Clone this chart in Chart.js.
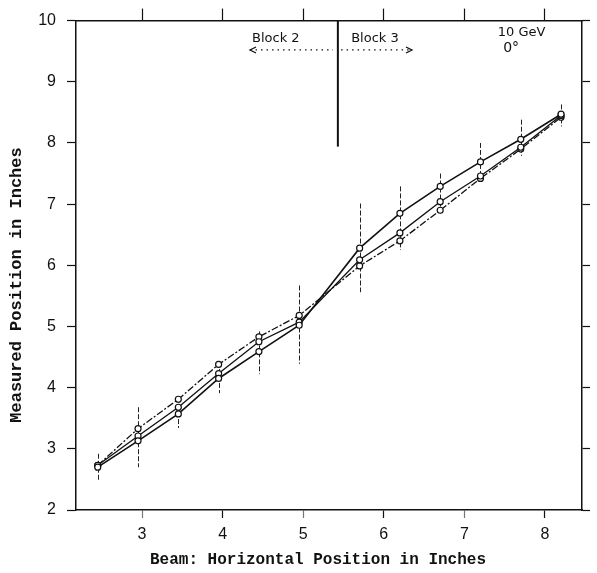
<!DOCTYPE html>
<html>
<head>
<meta charset="utf-8">
<script src="https://cdn.jsdelivr.net/npm/chart.js@4.4.0/dist/chart.umd.min.js"></script>
<style>
  html, body { margin: 0; padding: 0; background: #fff; }
  canvas { display: block; }
</style>
</head>
<body>
<canvas id="chart" width="597" height="573"></canvas>
<script>
// Beam position scan, 10 GeV at 0 degrees

const beamX = [2.45, 2.95, 3.45, 3.95, 4.45, 4.95, 5.7, 6.2, 6.7, 7.2, 7.7, 8.2];
const runA = [2.70, 3.13, 3.57, 4.15, 4.59, 5.02, 6.28, 6.85, 7.29, 7.69, 8.06, 8.47];
const runB = [2.73, 3.21, 3.68, 4.23, 4.75, 5.07, 6.09, 6.53, 7.04, 7.46, 7.93, 8.45];
const runC = [2.73, 3.33, 3.81, 4.38, 4.83, 5.18, 5.99, 6.40, 6.90, 7.42, 7.90, 8.42];
const errLow  = [2.49, 2.70, 3.34, 3.91, 4.22, 4.39, 5.56, 6.25, 6.82, 7.37, 7.79, 8.27];
const errHigh = [2.92, 3.68, 3.83, 4.42, 4.92, 5.67, 7.01, 7.29, 7.50, 8.00, 8.38, 8.63];

const xTicks = [3, 4, 5, 6, 7, 8];
const yTicks = [2, 3, 4, 5, 6, 7, 8, 9, 10];
const xRange = [2.18, 8.46];
const yRange = [2, 10];

// block boundary marker
const blockEdgeX = 5.43;
const blockEdgeY = 7.94;

const INK = '#111111';
const toPoints = ys => beamX.map((x, i) => ({ x: x, y: ys[i] }));

// ─── Error bars (drawn under the lines) ─────────────────────────────────────

const errorBars = {
  id: 'errorBars',
  beforeDatasetsDraw(chart) {
    const { ctx, scales } = chart;
    ctx.save();
    ctx.strokeStyle = '#222';
    ctx.lineWidth = 1;
    ctx.setLineDash([5, 2]);
    beamX.forEach((x, i) => {
      const px = Math.round(scales.x.getPixelForValue(x)) + 0.5;
      ctx.beginPath();
      ctx.moveTo(px, scales.y.getPixelForValue(errHigh[i]));
      ctx.lineTo(px, scales.y.getPixelForValue(errLow[i]));
      ctx.stroke();
    });
    ctx.restore();
  }
};

// ─── Labels, block marker, axis titles ──────────────────────────────────────

function dottedArrow(ctx, x0, x1, y, dir) {
  ctx.save();
  ctx.setLineDash([1.5, 4]);
  ctx.lineWidth = 1.3;
  ctx.beginPath();
  ctx.moveTo(x0, y);
  ctx.lineTo(x1, y);
  ctx.stroke();
  ctx.setLineDash([]);
  const tip = dir < 0 ? x0 : x1;
  ctx.beginPath();
  ctx.moveTo(tip - dir * 6, y - 3);
  ctx.lineTo(tip, y);
  ctx.lineTo(tip - dir * 6, y + 3);
  ctx.stroke();
  ctx.restore();
}

const notes = {
  id: 'notes',
  afterDraw(chart) {
    const { ctx, scales } = chart;
    const sx = v => scales.x.getPixelForValue(v);
    const sy = v => scales.y.getPixelForValue(v);
    ctx.save();
    ctx.strokeStyle = INK;
    ctx.fillStyle = INK;

    ctx.lineWidth = 2;
    ctx.beginPath();
    ctx.moveTo(sx(blockEdgeX), sy(10));
    ctx.lineTo(sx(blockEdgeX), sy(blockEdgeY));
    ctx.stroke();

    ctx.font = "13px 'DejaVu Sans'";
    ctx.textAlign = 'center';
    ctx.textBaseline = 'middle';
    ctx.fillText('Block 2', sx(4.66), sy(9.71));
    ctx.fillText('Block 3', sx(5.89), sy(9.71));
    dottedArrow(ctx, sx(4.34), sx(5.37), sy(9.52), -1);
    dottedArrow(ctx, sx(5.47), sx(6.35), sy(9.52), 1);
    ctx.fillText('10 GeV', sx(7.71), sy(9.81));
    ctx.font = "14px 'DejaVu Sans'";
    ctx.fillText('0°', sx(7.58), sy(9.54));

    ctx.font = "bold 16px 'Liberation Mono'";
    ctx.fillText('Beam: Horizontal Position in Inches', 318, 560);

    ctx.translate(17, 285);
    ctx.rotate(-Math.PI / 2);
    ctx.font = "bold 17px 'Liberation Mono'";
    ctx.fillText('Measured Position in Inches', 0, 0);
    ctx.restore();
  }
};

// ─── Axes ───────────────────────────────────────────────────────────────────

function fixedTicks(values) {
  return scale => { scale.ticks = values.map(v => ({ value: v })); };
}

const tickFont = { family: "'Liberation Sans'", size: 16 };

const chart = new Chart(document.getElementById('chart'), {
  type: 'line',
  data: {
    datasets: [
      {
        label: 'Run A',
        data: toPoints(runA),
        borderColor: INK,
        borderWidth: 1.6
      },
      {
        label: 'Run B',
        data: toPoints(runB),
        borderColor: INK,
        borderWidth: 1.3
      },
      {
        label: 'Run C',
        data: toPoints(runC),
        borderColor: INK,
        borderWidth: 1.3,
        borderDash: [7, 2, 2, 2]
      }
    ].map(ds => Object.assign(ds, {
      tension: 0,
      fill: false,
      pointRadius: 3,
      pointBorderWidth: 1.2,
      pointBorderColor: INK,
      pointBackgroundColor: '#ffffff'
    }))
  },
  options: {
    responsive: false,
    animation: false,
    layout: { padding: 0 },
    plugins: {
      legend: { display: false },
      tooltip: { enabled: false }
    },
    scales: {
      x: {
        type: 'linear',
        position: 'bottom',
        min: xRange[0],
        max: xRange[1],
        afterBuildTicks: fixedTicks(xTicks),
        afterFit: s => { s.height = 63; },
        border: { color: INK, width: 1.5 },
        grid: {
          drawOnChartArea: false,
          tickLength: 8,
          tickColor: c => (c.tick && c.tick.value % 2 === 0) ? INK : '#777',
          tickWidth: 1.2
        },
        ticks: { color: INK, font: tickFont, padding: 7, maxRotation: 0 }
      },
      xTop: {
        type: 'linear',
        position: 'top',
        min: xRange[0],
        max: xRange[1],
        afterBuildTicks: fixedTicks(xTicks),
        afterFit: s => { s.height = 15; },
        border: { color: INK, width: 1.5 },
        grid: { drawOnChartArea: false, tickLength: 12, tickColor: INK, tickWidth: 1.2 },
        ticks: { display: false }
      },
      y: {
        type: 'linear',
        position: 'left',
        min: yRange[0],
        max: yRange[1],
        afterBuildTicks: fixedTicks(yTicks),
        afterFit: s => { s.width = 76; },
        border: { color: INK, width: 1.5 },
        grid: { drawOnChartArea: false, tickLength: 9, tickColor: INK, tickWidth: 1.2 },
        ticks: { color: INK, font: tickFont, padding: 11 }
      },
      yRight: {
        type: 'linear',
        position: 'right',
        min: yRange[0],
        max: yRange[1],
        afterBuildTicks: fixedTicks(yTicks),
        afterFit: s => { s.width = 15; },
        border: { color: INK, width: 1.5, dash: [9, 2] },
        grid: { drawOnChartArea: false, tickLength: 8, tickColor: INK, tickWidth: 1.2 },
        ticks: { display: false }
      }
    }
  },
  plugins: [errorBars, notes]
});
</script>
</body>
</html>
